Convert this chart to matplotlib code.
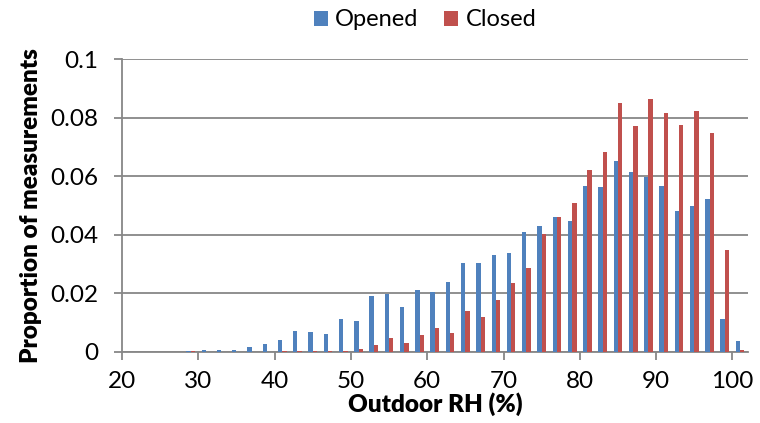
import matplotlib
matplotlib.use("Agg")
import matplotlib.pyplot as plt
from matplotlib.patches import Patch
from matplotlib.ticker import FuncFormatter

# Outdoor RH bins (centre of each 2 % class)
rh_bins = [21, 23, 25, 27, 29, 31, 33, 35, 37, 39, 41, 43, 45, 47, 49, 51,
           53, 55, 57, 59, 61, 63, 65, 67, 69, 71, 73, 75, 77, 79, 81, 83,
           85, 87, 89, 91, 93, 95, 97, 99, 101]

# Proportion of measurements with windows opened
opened = [0, 0, 0, 0, 0.0002, 0.0005, 0.0006, 0.0006, 0.0015, 0.0026, 0.0039,
          0.0070, 0.0067, 0.0060, 0.0112, 0.0104, 0.0189, 0.0198, 0.0152,
          0.0211, 0.0204, 0.0238, 0.0303, 0.0302, 0.0331, 0.0337, 0.0409,
          0.0430, 0.0461, 0.0447, 0.0567, 0.0564, 0.0652, 0.0614, 0.0597,
          0.0567, 0.0482, 0.0497, 0.0522, 0.0111, 0.0036]

# Proportion of measurements with windows closed
closed = [0, 0, 0, 0, 0.0002, 0, 0, 0, 0, 0, 0.0001, 0.0003, 0.0002, 0.0002,
          0.0003, 0.0009, 0.0022, 0.0046, 0.0030, 0.0057, 0.0081, 0.0065,
          0.0139, 0.0119, 0.0176, 0.0235, 0.0287, 0.0402, 0.0461, 0.0508,
          0.0621, 0.0683, 0.0849, 0.0771, 0.0864, 0.0815, 0.0777, 0.0824,
          0.0747, 0.0348, 0.0005]

series_names = ["Opened", "Closed"]
x_ticks = [20, 30, 40, 50, 60, 70, 80, 90, 100]
y_ticks = [0, 0.02, 0.04, 0.06, 0.08, 0.1]

blue = "#4F81BD"
red = "#C0504D"
grid_grey = "#878787"

plt.rcParams["font.family"] = ["Lato", "DejaVu Sans"]

fig = plt.figure(figsize=(7.6, 4.23), dpi=100)
ax = fig.add_axes([0.1605, 0.1686, 0.8233, 0.6912])

bar_w = 0.57
ax.bar([x - bar_w / 2 for x in rh_bins], opened, width=bar_w, color=blue,
       edgecolor="none", zorder=3)
ax.bar([x + bar_w / 2 for x in rh_bins], closed, width=bar_w, color=red,
       edgecolor="none", zorder=3)

ax.set_xlim(20, 102)
ax.set_ylim(0, 0.1)
ax.set_xticks(x_ticks)
ax.set_yticks(y_ticks)
ax.yaxis.set_major_formatter(FuncFormatter(lambda v, p: f"{v:g}"))

ax.yaxis.grid(True, color=grid_grey, linewidth=1.3, zorder=0)
ax.set_axisbelow(True)
for side in ("top", "right"):
    ax.spines[side].set_visible(False)
for side in ("left", "bottom"):
    ax.spines[side].set_color(grid_grey)
    ax.spines[side].set_linewidth(1.3)
ax.tick_params(axis="both", direction="out", length=6, width=1.3,
               color=grid_grey, labelsize=17.5, labelcolor="black")
ax.tick_params(axis="y", pad=11)
ax.tick_params(axis="x", pad=8)

ax.set_xlabel("Outdoor RH (%)", fontsize=17.5, fontweight="heavy",
              labelpad=0)
ax.set_ylabel("Proportion of measurements", fontsize=17.5,
              fontweight="heavy", labelpad=6)

handles = [Patch(facecolor=blue, edgecolor="none"),
           Patch(facecolor=red, edgecolor="none")]
fig.legend(handles, series_names, loc="center", bbox_to_anchor=(0.559, 0.953),
           ncol=2, frameon=False, fontsize=17, handlelength=0.6,
           handleheight=0.6, handletextpad=0.3, columnspacing=1.1)

fig.savefig("out.png", dpi=100)
